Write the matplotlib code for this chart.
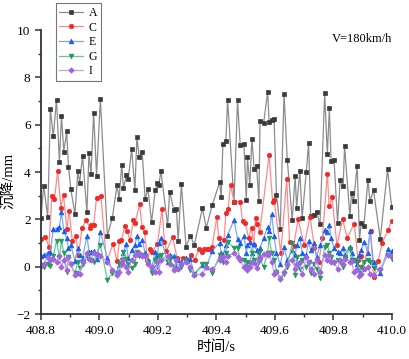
import matplotlib
matplotlib.use("Agg")
import matplotlib.pyplot as plt
from matplotlib.ticker import MultipleLocator

plt.rcParams['font.family'] = ['Liberation Serif', 'Noto Sans CJK SC']

# time stamps (s) of the A, E, G, I series
t_main = [408.800, 408.809, 408.823, 408.832, 408.842, 408.853, 408.863, 408.870, 408.878, 408.888,
          408.894, 408.902, 408.916, 408.926, 408.932, 408.942, 408.957, 408.964, 408.971, 408.980,
          408.990, 409.003, 409.027, 409.044, 409.060, 409.067, 409.076, 409.082, 409.092, 409.098,
          409.110, 409.121, 409.128, 409.136, 409.146, 409.156, 409.166, 409.178, 409.191, 409.198,
          409.203, 409.210, 409.233, 409.240, 409.254, 409.263, 409.269, 409.280, 409.296, 409.311,
          409.324, 409.352, 409.365, 409.386, 409.411, 409.416, 409.422, 409.432, 409.438, 409.460,
          409.472, 409.481, 409.494, 409.502, 409.506, 409.514, 409.521, 409.529, 409.537, 409.545,
          409.549, 409.561, 409.575, 409.580, 409.589, 409.597, 409.605, 409.618, 409.631, 409.642,
          409.659, 409.669, 409.674, 409.685, 409.693, 409.707, 409.715, 409.722, 409.732, 409.742,
          409.754, 409.770, 409.779, 409.786, 409.792, 409.802, 409.814, 409.823, 409.833, 409.838,
          409.856, 409.862, 409.869, 409.881, 409.889, 409.895, 409.904, 409.918, 409.925, 409.937,
          409.960, 409.985, 409.999]

A = [2.05, 3.43, 2.12, 6.68, 5.51, 7.06, 4.42, 6.39, 4.87, 5.72,
     4.22, 3.28, 2.23, 4.03, 3.53, 4.70, 2.30, 4.79, 3.91, 6.51,
     3.84, 7.08, 1.30, 2.08, 3.46, 2.86, 4.31, 3.32, 3.87, 3.70,
     4.96, 3.26, 5.47, 4.62, 4.85, 2.86, 3.28, 1.88, 3.26, 3.52,
     3.46, 4.05, 1.75, 3.18, 2.39, 2.43, 1.10, 3.49, 0.85, 1.30,
     0.92, 2.47, 1.64, 2.63, 3.58, 2.94, 5.20, 5.32, 7.06, 2.73,
     7.06, 5.16, 5.19, 2.84, 4.62, 3.46, 5.41, 4.13, 4.27, 2.79,
     6.17, 6.06, 7.39, 6.13, 6.22, 6.24, 3.05, 1.60, 7.31, 4.53,
     1.97, 3.85, 2.50, 4.05, 2.08, 4.01, 5.23, 2.16, 2.20, 2.32,
     1.80, 7.35, 4.75, 6.69, 4.45, 4.52, 1.87, 3.67, 3.40, 5.10,
     2.14, 3.11, 2.78, 4.27, 1.15, 1.84, 1.74, 3.67, 2.77, 3.23,
     1.18, 4.12, 2.52]

E = [0.47, 0.50, 0.60, 0.64, 1.60, 1.60, 1.70, 2.32, 1.50, 1.20,
     0.78, 0.92, 0.25, 0.78, 0.50, 0.36, 1.31, 0.64, 0.64, 0.67,
     0.31, 1.48, 0.36, -0.14, -0.21, 0.07, 0.21, 0.60, 0.95, 0.36,
     0.71, 0.90, 1.31, 0.95, 1.12, 0.59, 0.24, -0.07, 0.64, 0.50,
     0.99, 1.20, 0.21, 0.50, 0.45, 0.07, 0.30, 0.20, 0.36, 0.31,
     -0.32, 0.07, 0.00, 0.67, 1.02, 0.57, 0.50, 0.90, 1.34, 1.98,
     1.17, 1.00, 1.30, 0.60, 0.90, 1.06, 0.60, 0.95, 0.70, 0.40,
     0.80, 1.20, 1.69, 1.50, 2.22, 1.30, 0.60, 0.10, 0.85, 0.30,
     0.70, 0.50, 0.90, 1.23, 0.60, 0.50, 1.09, 0.70, 1.02, 0.40,
     0.90, 1.55, 1.48, 1.76, 1.20, 0.80, 0.64, 0.60, 0.78, 0.50,
     0.85, 0.60, 0.30, 0.10, 0.50, 0.70, 1.06, 0.60, 1.51, 0.20,
     -0.28, 0.75, 0.65]

G = [0.07, 0.00, 0.10, 0.05, 0.45, 1.09, 0.40, 1.09, 0.60, -0.21,
     0.40, 0.10, -0.28, 0.20, -0.05, 0.10, 0.45, 0.55, 0.30, 0.20,
     0.50, 0.90, -0.55, -0.28, -0.32, 0.10, 0.30, 0.64, 0.35, 0.10,
     -0.04, 0.10, 0.64, 0.45, 0.50, 0.45, 0.20, -0.28, 0.30, 0.00,
     0.45, 0.50, 0.20, 0.35, 0.00, 0.30, -0.10, 0.00, 0.30, -0.14,
     -0.30, 0.10, 0.10, -0.28, 0.50, 0.30, 0.20, 0.60, 1.06, 0.78,
     0.80, 0.30, 0.30, 0.00, 0.20, 0.10, 0.60, 0.30, 0.07, 0.60,
     0.30, 0.00, 0.60, 1.20, 0.60, 0.30, -0.20, -0.46, -0.30, 0.00,
     0.99, -0.35, 0.40, -0.11, 0.30, 0.00, 0.20, -0.28, 0.10, -0.10,
     -0.49, 0.85, 0.92, 0.60, 0.40, 0.14, 0.30, 0.21, 0.00, 0.40,
     0.74, 0.30, 0.30, 0.20, -0.25, 0.00, 0.21, 0.30, 0.20, -0.07,
     -0.15, 0.50, 0.35]

I = [0.05, 0.10, 0.40, 0.30, 0.35, 0.20, 0.45, 0.00, 0.30, -0.15,
     0.40, 0.10, -0.35, -0.25, -0.30, 0.20, 0.60, 0.35, 0.30, 0.60,
     0.55, 0.45, 0.20, -0.15, -0.35, -0.20, 0.10, 0.30, 0.00, -0.20,
     0.30, 0.50, 0.55, 0.60, 0.45, 0.45, 0.10, 0.00, -0.20, 0.20,
     -0.20, 0.30, 0.45, 0.10, -0.15, 0.30, -0.10, 0.10, 0.20, 0.00,
     -0.35, -0.30, 0.00, -0.10, 0.30, 0.40, 0.40, 0.20, 0.45, 0.60,
     0.40, 0.30, 0.00, 0.05, -0.15, 0.00, 0.20, 0.15, -0.05, 0.30,
     0.40, 0.55, 0.50, 0.60, 0.20, -0.30, -0.20, -0.50, -0.20, 0.10,
     0.30, -0.10, 0.10, 0.20, -0.30, 0.40, 0.20, -0.10, -0.30, 0.30,
     -0.20, 0.50, 0.30, 0.50, 0.20, 0.20, -0.10, 0.30, 0.10, 0.35,
     0.20, 0.25, -0.20, -0.10, -0.40, -0.30, -0.10, 0.00, -0.30, -0.35,
     -0.10, 0.50, 0.45]

# time stamps (s) and values of the C series
t_C = [408.800, 408.814, 408.827, 408.837, 408.846, 408.857, 408.868, 408.877, 408.888, 408.896,
       408.907, 408.919, 408.928, 408.940, 408.955, 408.966, 408.971, 408.980, 408.990, 409.005,
       409.024, 409.046, 409.060, 409.068, 409.075, 409.087, 409.093, 409.105, 409.116, 409.122,
       409.137, 409.146, 409.154, 409.164, 409.173, 409.181, 409.198, 409.214, 409.222, 409.229,
       409.250, 409.265, 409.286, 409.300, 409.312, 409.326, 409.340, 409.349, 409.357, 409.366,
       409.374, 409.385, 409.401, 409.408, 409.426, 409.432, 409.440, 409.448, 409.460, 409.481,
       409.489, 409.498, 409.510, 409.520, 409.527, 409.534, 409.540, 409.548, 409.580, 409.592,
       409.597, 409.620, 409.640, 409.650, 409.664, 409.679, 409.700, 409.720, 409.735, 409.750,
       409.762, 409.779, 409.785, 409.795, 409.812, 409.831, 409.847, 409.871, 409.884, 409.894,
       409.903, 409.927, 409.937, 409.953, 409.967, 409.986, 409.999]

C = [1.16, 1.28, 0.85, 3.00, 2.86, 4.05, 2.50, 3.04, 1.60, 2.36,
     1.10, 1.30, 0.48, 1.63, 1.98, 1.65, 1.77, 1.77, 2.92, 3.00,
     0.21, 0.95, 0.24, 1.10, 1.14, 1.72, 1.53, 1.13, 1.97, 1.86,
     2.64, 1.67, 1.47, 0.28, 0.74, 0.64, 0.95, 2.44, 1.06, 0.67,
     1.26, 0.38, 0.36, 0.19, 0.50, 0.30, 0.75, 0.64, 0.75, 0.74,
     0.74, 0.85, 2.09, 1.23, 1.13, 2.29, 2.46, 3.46, 2.75, 2.75,
     1.94, 1.84, 1.23, 1.63, 0.92, 2.08, 1.80, 1.48, 4.73, 2.73,
     2.83, 0.57, 3.70, 1.06, 0.88, 2.01, 0.92, 2.12, 0.80, 0.21,
     1.20, 3.94, 2.58, 2.94, 0.90, 2.01, 1.22, 1.82, 0.30, 0.47,
     -0.08, 1.51, -0.42, 0.24, 1.02, 1.54, 1.95]

labels = ['A', 'C', 'E', 'G', 'I']
x_ticks = [408.8, 409.0, 409.2, 409.4, 409.6, 409.8, 410.0]
y_ticks = [-2, 0, 2, 4, 6, 8, 10]

fig = plt.figure(figsize=(4.10, 3.59), dpi=100)
ax = fig.add_axes([0.100, 0.125, 0.856, 0.791])

styles = [
    (t_main, A, '#8c8c8c', '#3a3a3a', 's', 3.0),
    (t_C, C, '#ff8a8a', '#f02828', 'o', 3.2),
    (t_main, E, '#7aa8ff', '#1a5cf0', '^', 3.4),
    (t_main, G, '#6cc49a', '#1e9a5a', 'v', 3.4),
    (t_main, I, '#c4a0f0', '#a064e0', 'D', 2.8),
]
for (tt, vals, lc, mc, mk, ms), lab in zip(styles, labels):
    ax.plot(tt, vals, color=lc, lw=0.9, marker=mk, ms=ms,
            markerfacecolor=mc, markeredgecolor=mc, markeredgewidth=0.5, label=lab)

ax.set_xlim(408.8, 410.0)
ax.set_ylim(-2, 10)
ax.set_xticks(x_ticks)
ax.set_xticklabels([f"{v:.1f}" for v in x_ticks])
ax.set_yticks(y_ticks)
ax.xaxis.set_minor_locator(MultipleLocator(0.1))
ax.yaxis.set_minor_locator(MultipleLocator(1))
for s in ['top', 'right']:
    ax.spines[s].set_visible(False)
for s in ['left', 'bottom']:
    ax.spines[s].set_linewidth(1.3)
    ax.spines[s].set_color('#333333')
ax.tick_params(which='major', direction='out', length=4, width=1.1, labelsize=9.5, colors='#333333')
ax.tick_params(which='minor', direction='out', length=2.5, width=1.0, colors='#333333')
ax.tick_params(labelcolor='black')

ax.set_xlabel('时间/s', fontsize=10.5, labelpad=3)
ax.set_ylabel('沉降/mm', fontsize=10.5)
ax.yaxis.set_label_coords(-0.072, 0.47)

ax.text(0.915, 0.97, 'V=180km/h', transform=ax.transAxes, ha='center', va='center', fontsize=9)

leg = fig.legend(loc='upper left', bbox_to_anchor=(0.130, 0.997), fontsize=8.5, frameon=True,
                 fancybox=False, edgecolor='#555555', handlelength=2.0, labelspacing=0.22,
                 borderpad=0.3, handletextpad=0.5, borderaxespad=0.2)
leg.get_frame().set_linewidth(0.8)

fig.savefig('out.png', dpi=100)
